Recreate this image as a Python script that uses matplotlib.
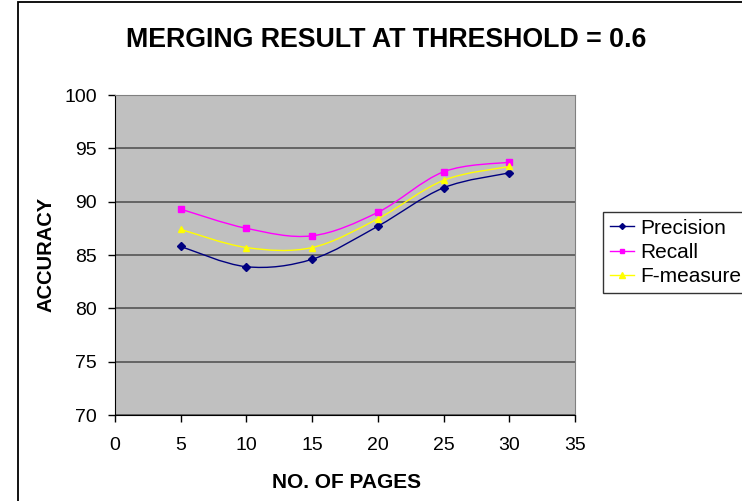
import matplotlib
matplotlib.use("Agg")
import matplotlib.pyplot as plt
import numpy as np
from matplotlib.path import Path
from matplotlib.patches import PathPatch, Rectangle
from matplotlib.lines import Line2D

pages = [5, 10, 15, 20, 25, 30]
precision = [85.8, 83.9, 84.6, 87.7, 91.3, 92.7]
recall = [89.3, 87.5, 86.8, 89.0, 92.8, 93.7]
f_measure = [87.4, 85.7, 85.7, 88.4, 92.0, 93.3]

plt.rcParams['font.family'] = ['Liberation Sans', 'DejaVu Sans']

W, H = 742, 501


def smooth_path(xs, ys, tension=1 / 6):
    # Bezier curve through the points, spreadsheet-style smoothing
    xs = np.asarray(xs, float)
    ys = np.asarray(ys, float)
    n = len(xs)
    verts = [(xs[0], ys[0])]
    codes = [Path.MOVETO]
    for i in range(n - 1):
        p0 = (xs[max(i - 1, 0)], ys[max(i - 1, 0)])
        p1 = (xs[i], ys[i])
        p2 = (xs[i + 1], ys[i + 1])
        p3 = (xs[min(i + 2, n - 1)], ys[min(i + 2, n - 1)])
        c1 = (p1[0] + (p2[0] - p0[0]) * tension, p1[1] + (p2[1] - p0[1]) * tension)
        c2 = (p2[0] - (p3[0] - p1[0]) * tension, p2[1] - (p3[1] - p1[1]) * tension)
        verts += [c1, c2, p2]
        codes += [Path.CURVE4] * 3
    return Path(verts, codes)


fig = plt.figure(figsize=(W / 100, H / 100), dpi=100)
fig.patch.set_facecolor('white')

# outer chart frame
fig.patches.append(Rectangle((18 / W, -0.1), 1.2, 1.1 - 2 / H, transform=fig.transFigure,
                             fill=False, edgecolor='black', linewidth=1.3))

ax = fig.add_axes([115 / W, 1 - 415 / H, 460 / W, 320 / H])
ax.set_facecolor('#C0C0C0')

series = [
    ('Precision', precision, '#000080', 'D', 4),
    ('Recall', recall, '#FF00FF', 's', 4.5),
    ('F-measure', f_measure, '#FFFF00', '^', 5),
]
handles = []
for name, vals, color, marker, ms in series:
    ax.add_patch(PathPatch(smooth_path(pages, vals), fill=False, edgecolor=color, linewidth=1.0, zorder=3))
    ax.plot(pages, vals, linestyle='none', marker=marker, markersize=ms, color=color, zorder=4)
    handles.append(Line2D([], [], color=color, marker=marker, markersize=ms - 1, linewidth=1.0, label=name))

ax.set_xlim(0, 35)
ax.set_ylim(70, 100)
ax.set_xticks(range(0, 36, 5))
ax.set_yticks(range(70, 101, 5))
ax.yaxis.grid(True, color='#555555', linewidth=1.2)
ax.set_axisbelow(True)
ax.tick_params(direction='out', length=5, width=1, labelsize=14, colors='black')
ax.tick_params(axis='x', pad=11)
ax.tick_params(axis='y', pad=8)
for side in ['top', 'right']:
    ax.spines[side].set_color('#808080')
for side in ['left', 'bottom']:
    ax.spines[side].set_color('black')

fig.text(386 / W, 1 - 47 / H, 'MERGING RESULT AT THRESHOLD = 0.6', ha='center', va='baseline',
         fontsize=19.3, fontweight='bold')
fig.text(347 / W, 1 - 487.5 / H, 'NO. OF PAGES', ha='center', va='baseline',
         fontsize=15, fontweight='bold')
fig.text(46 / W, 1 - 254 / H, 'ACCURACY', ha='center', va='center', rotation=90,
         fontsize=14.5, fontweight='bold')

leg = fig.legend(handles=handles, loc='upper left', bbox_to_anchor=(603 / W, 1 - 212 / H),
                 fontsize=15, frameon=True, fancybox=False, edgecolor='black', handlelength=1.15,
                 handletextpad=0.33, borderpad=0.32, labelspacing=0.25, borderaxespad=0)
leg.get_frame().set_linewidth(1.0)

fig.savefig('out.png', dpi=100)
